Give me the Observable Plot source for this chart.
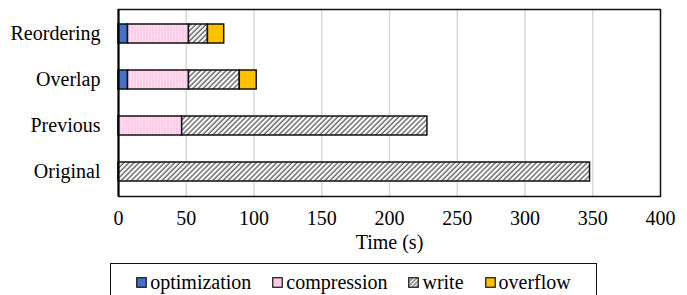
<!DOCTYPE html>
<html>
<head>
<meta charset="utf-8">
<script src="https://cdn.jsdelivr.net/npm/d3@7"></script>
<script src="https://cdn.jsdelivr.net/npm/@observablehq/plot@0.6"></script>
<style>
  html, body { margin: 0; padding: 0; background: #fff; }
  #wrap { position: relative; width: 687px; height: 295px; overflow: hidden; font-family: "Liberation Serif", "Times New Roman", serif; }
  #legend { position: absolute; left: 110px; top: 263px; width: 487px; height: 40px; border: 1.5px solid #111; box-sizing: border-box;
            display: flex; justify-content: center; align-items: flex-start; gap: 21px; padding-top: 6px; font-size: 20px; color: #000; }
  .item { display: flex; align-items: center; gap: 3px; white-space: nowrap; line-height: 24px; }
  .item svg { display: block; }
</style>
</head>
<body>
<div id="wrap">
  <div id="chart"></div>
  <div id="legend"></div>
</div>
<script>
const categories = ["Reordering", "Overlap", "Previous", "Original"];
const seriesNames = ["optimization", "compression", "write", "overflow"];
const optimization = [7, 7, 0, 0];
const compression = [45, 45, 47, 0];
const write = [14, 37.5, 181, 348];
const overflow = [12, 12.5, 0, 0];
const xTicks = [0, 50, 100, 150, 200, 250, 300, 350, 400];
const xLabel = "Time (s)";
const seriesFills = ["#4472c4", "url(#pinkdots)", "url(#hatch)", "#ffc000"];

const seriesValues = {optimization, compression, write, overflow};
const rows = [];
categories.forEach((c, i) => {
  seriesNames.forEach(s => {
    const v = seriesValues[s][i];
    if (v > 0) rows.push({category: c, series: s, value: v});
  });
});

const chart = Plot.plot({
  width: 687,
  height: 262,
  marginTop: 9,
  marginBottom: 66,
  marginLeft: 118,
  marginRight: 27,
  style: {fontFamily: "'Liberation Serif', 'Times New Roman', serif", fontSize: "20px", color: "#000", background: "#fff"},
  x: {domain: [0, 400], label: null},
  y: {domain: categories, paddingInner: 0.596, paddingOuter: 0.2875, label: null},
  color: {type: "ordinal", domain: seriesNames, range: seriesFills},
  marks: [
    Plot.ruleX(xTicks.slice(1, -1), {stroke: "#d9d9d9", strokeWidth: 1.5}),
    Plot.barX(rows, Plot.stackX({
      y: "category", x: "value", fill: "series", order: seriesNames,
      stroke: "#111", strokeWidth: 1.5, inset: 0
    })),
    Plot.frame({stroke: "#111", strokeWidth: 1.5}),
    Plot.ruleX([0], {stroke: "#000", strokeWidth: 2}),
    Plot.axisX({ticks: xTicks, tickSize: 0, tickPadding: 14, fontSize: 20, tickFormat: d => String(d)}),
    Plot.axisY({tickSize: 0, tickPadding: 18, fontSize: 20}),
    Plot.text([xLabel], {text: d => d, frameAnchor: "bottom", dy: 52, fontSize: 20, fill: "#000"})
  ]
});

const defs = d3.select(chart).insert("defs", ":first-child");
const hatch = defs.append("pattern").attr("id", "hatch").attr("patternUnits", "userSpaceOnUse")
  .attr("width", 3.6).attr("height", 3.6).attr("patternTransform", "rotate(45)");
hatch.append("rect").attr("width", 3.6).attr("height", 3.6).attr("fill", "#fff");
hatch.append("line").attr("x1", 1).attr("y1", 0).attr("x2", 1).attr("y2", 3.6).attr("stroke", "#555").attr("stroke-width", 1.3);
const pink = defs.append("pattern").attr("id", "pinkdots").attr("patternUnits", "userSpaceOnUse")
  .attr("width", 3).attr("height", 3);
pink.append("rect").attr("width", 3).attr("height", 3).attr("fill", "#fdc9e6");
pink.append("rect").attr("x", 1).attr("y", 0).attr("width", 1).attr("height", 3).attr("fill", "#ffe3f3");
pink.append("rect").attr("x", 0).attr("y", 1).attr("width", 3).attr("height", 1).attr("fill", "#fed6ec");

document.getElementById("chart").appendChild(chart);

const legend = d3.select("#legend");
seriesNames.forEach((s, i) => {
  const item = legend.append("div").attr("class", "item");
  const sw = item.append("svg").attr("width", 11).attr("height", 11);
  const sdefs = sw.append("defs");
  if (i === 2) {
    const p = sdefs.append("pattern").attr("id", "lhatch").attr("patternUnits", "userSpaceOnUse")
      .attr("width", 3).attr("height", 3).attr("patternTransform", "rotate(45)");
    p.append("rect").attr("width", 3).attr("height", 3).attr("fill", "#fff");
    p.append("line").attr("x1", 1).attr("y1", 0).attr("x2", 1).attr("y2", 3).attr("stroke", "#444").attr("stroke-width", 1.1);
  }
  const fill = i === 2 ? "url(#lhatch)" : (i === 1 ? "#fdc9e6" : seriesFills[i]);
  sw.append("rect").attr("x", 0.75).attr("y", 0.75).attr("width", 9.5).attr("height", 9.5)
    .attr("fill", fill).attr("stroke", "#111").attr("stroke-width", 1.2);
  item.append("span").text(s);
});
</script>
</body>
</html>
